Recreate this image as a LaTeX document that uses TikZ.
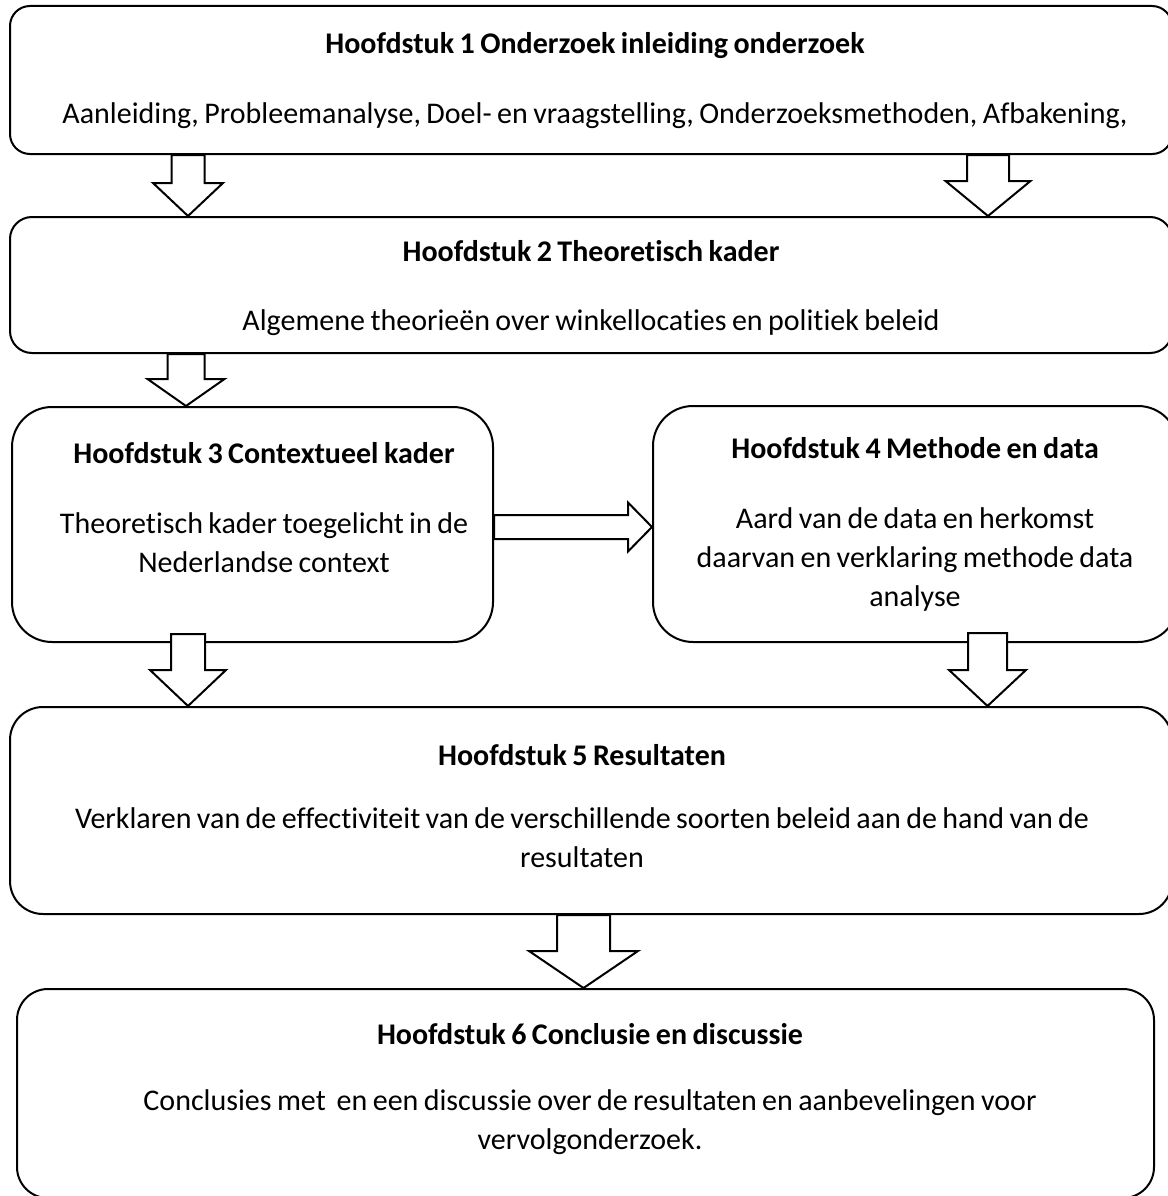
\documentclass[tikz,border=0pt]{standalone}
\usepackage{fontspec}
\setmainfont{Carlito}[WordSpace=0.8, Ligatures=NoCommon]
\usetikzlibrary{calc}

\tikzset{
  x=1pt, y=-1pt,
  box/.style={draw, line width=2pt, rounded corners=#1, inner sep=0pt},
  box/.default=20pt,
  txt/.style={align=center, inner sep=0pt,
    font=\fontsize{30}{39}\selectfont},
  blk/.style={draw, fill=white, line width=2pt, line join=miter},
}

% block arrow pointing down: #1 top of shaft, #2 tip,
% #3 half shaft width, #4 half head width, #5 head length (all pt)
\newcommand\blockdown[5]{%
  \draw[blk] let \p1=(#1), \p2=(#2) in
    (\x2-#3pt,\y1) -- (\x2-#3pt,\y2+#5pt) -- (\x2-#4pt,\y2+#5pt) -- (\p2)
    -- (\x2+#4pt,\y2+#5pt) -- (\x2+#3pt,\y2+#5pt) -- (\x2+#3pt,\y1) -- cycle;}

% block arrow pointing right: #1 start of shaft, #2 tip, rest as above
\newcommand\blockright[5]{%
  \draw[blk] let \p1=(#1), \p2=(#2) in
    (\x1,\y2+#3pt) -- (\x2-#5pt,\y2+#3pt) -- (\x2-#5pt,\y2+#4pt) -- (\p2)
    -- (\x2-#5pt,\y2-#4pt) -- (\x2-#5pt,\y2-#3pt) -- (\x1,\y2-#3pt) -- cycle;}

\begin{document}
\begin{tikzpicture}
\useasboundingbox (0,0) rectangle (1167,1196);
\fill[white] (0,0) rectangle (1167,1196);

% chapter boxes
\node[box=20pt, minimum width=1162pt, minimum height=148pt] (b1) at (591,80) {};
\node[box=22pt, minimum width=1162pt, minimum height=136pt] (b2) at (591,285) {};
\node[box=40pt, minimum width=481pt,  minimum height=235pt] (b3) at (252.5,524.5) {};
\node[box=40pt, minimum width=525pt,  minimum height=236pt] (b4) at (915.5,524) {};
\node[box=33pt, minimum width=1162pt, minimum height=207pt] (b5) at (591,810.5) {};
\node[box=31pt, minimum width=1137pt, minimum height=209pt] (b6) at (585.5,1093.5) {};

% box texts
\node[txt] (t1) at (595,81) {\strut\textbf{Hoofdstuk 1 Onderzoek inleiding onderzoek}\\[31pt]
  Aanleiding, Probleemanalyse, Doel- en vraagstelling, Onderzoeksmethoden, Afbakening,\strut};
\node[txt] (t2) at (591,288.5) {\strut\textbf{Hoofdstuk 2 Theoretisch kader}\\[30pt]
  Algemene theorieën over winkellocaties en politiek beleid\strut};
\node[txt] (t3) at (264,510) {\strut\textbf{Hoofdstuk 3 Contextueel kader}\\[31pt]
  Theoretisch kader toegelicht in de\\ Nederlandse context\strut};
\node[txt] (t4) at (915,525) {\strut\textbf{Hoofdstuk 4 Methode en data}\\[31pt]
  Aard van de data en herkomst\\ daarvan en verklaring methode data\\ analyse\strut};
\node[txt] (t5) at (582,808.5) {\strut\textbf{Hoofdstuk 5 Resultaten}\\[24pt]
  Verklaren van de effectiviteit van de verschillende soorten beleid aan de hand van de\\
  resultaten\strut};
\node[txt] (t6) at (590,1089.5) {\strut\textbf{Hoofdstuk 6 Conclusie en discussie}\\[27pt]
  Conclusies met\ \ en een discussie over de resultaten en aanbevelingen voor\\
  vervolgonderzoek.\strut};

% arrow end points
\coordinate (a1s) at (188,0 |- b1.south);
\coordinate (a1e) at (188,0 |- b2.north);
\coordinate (a2s) at (988,0 |- b1.south);
\coordinate (a2e) at (988,0 |- b2.north);
\coordinate (a3s) at (186,0 |- b2.south);
\coordinate (a3e) at (186,0 |- b3.north);
\coordinate (a4s) at (b3.east |- 0,527);
\coordinate (a4e) at (b4.west |- 0,527);
\coordinate (a5s) at ($(188,0 |- b3.south)+(0,-9)$);
\coordinate (a5e) at (188,0 |- b5.north);
\coordinate (a6s) at ($(987.5,0 |- b4.south)+(0,-10)$);
\coordinate (a6e) at (987.5,0 |- b5.north);
\coordinate (a7s) at (583.5,0 |- b5.south);
\coordinate (a7e) at (583.5,0 |- b6.north);

% block arrows between chapters
\blockdown{a1s}{a1e}{16.5}{35}{33}
\blockdown{a2s}{a2e}{21}{42.5}{35}
\blockdown{a3s}{a3e}{18.5}{38.5}{27}
\blockright{a4s}{a4e}{12}{24.5}{24}
\blockdown{a5s}{a5e}{17}{38}{36}
\blockdown{a6s}{a6e}{19.5}{38.5}{36}
\blockdown{a7s}{a7e}{26.5}{54.5}{37}
\end{tikzpicture}
\end{document}
